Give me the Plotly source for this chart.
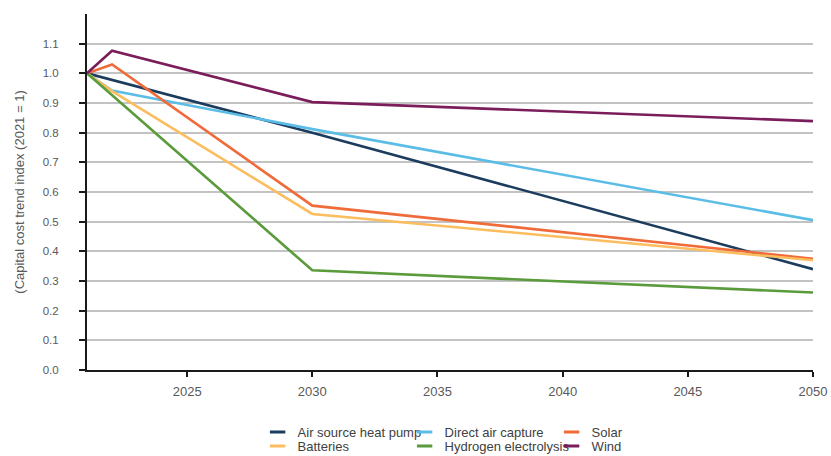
import plotly.graph_objects as go

years_ashp = [2021, 2030, 2050]
ashp = [1.0, 0.80, 0.34]

years_dac = [2021, 2022, 2030, 2050]
dac = [1.0, 0.942, 0.812, 0.505]

years_solar = [2021, 2022, 2030, 2050]
solar = [1.0, 1.03, 0.554, 0.375]

years_batt = [2021, 2022, 2030, 2050]
batteries = [1.0, 0.94, 0.526, 0.37]

years_h2 = [2021, 2030, 2050]
hydrogen = [1.0, 0.336, 0.261]

years_wind = [2021, 2022, 2030, 2050]
wind = [1.0, 1.076, 0.903, 0.839]

series = [
    ("Air source heat pump", years_ashp, ashp, "#1c3c5e", "legend"),
    ("Direct air capture", years_dac, dac, "#5bbde6", "legend"),
    ("Solar", years_solar, solar, "#ef6b3a", "legend"),
    ("Batteries", years_batt, batteries, "#fcbd5e", "legend2"),
    ("Hydrogen electrolysis", years_h2, hydrogen, "#5a9b3c", "legend2"),
    ("Wind", years_wind, wind, "#7b1d5b", "legend2"),
]

y_ticks = [round(0.1 * i, 1) for i in range(12)]
y_ticktext = [f"{v:.1f}" for v in y_ticks]
x_ticks = [2025, 2030, 2035, 2040, 2045, 2050]

fig = go.Figure()
for name, xs, ys, color, lg in series:
    fig.add_trace(go.Scatter(x=xs, y=ys, mode="lines", name=name,
                             line=dict(color=color, width=2.6),
                             showlegend=False, legendgroup=name))
# legend entries with short dash symbols
for name, xs, ys, color, lg in series:
    fig.add_trace(go.Scatter(x=[None], y=[None], mode="markers", name=name,
                             marker=dict(symbol="line-ew", size=11,
                                         line=dict(color=color, width=3)),
                             legend=lg, legendgroup=name, hoverinfo="skip"))

font_family = "Liberation Sans, Arial, sans-serif"
legend_common = dict(orientation="h", xanchor="left", yanchor="middle",
                     font=dict(family=font_family, size=13, color="#404040"),
                     entrywidth=102, entrywidthmode="pixels",
                     itemwidth=30, bgcolor="rgba(0,0,0,0)", tracegroupgap=0)

fig.update_layout(
    width=831, height=456,
    margin=dict(l=87, r=18, t=14, b=86, autoexpand=False),
    paper_bgcolor="white", plot_bgcolor="white",
    font=dict(family=font_family, size=11, color="#595959"),
    showlegend=True,
    legend=dict(x=0.235, y=-0.1742, xref="paper", yref="paper", **legend_common),
    legend2=dict(x=0.235, y=-0.2135, xref="paper", yref="paper", **legend_common),
    xaxis=dict(range=[2021, 2050], tickvals=x_ticks, showgrid=False,
               showline=True, linecolor="#1a1a1a", linewidth=2,
               ticks="outside", ticklen=5, tickwidth=2, tickcolor="#1a1a1a",
               tickfont=dict(size=13, color="#595959"), zeroline=False,
               ticklabelstandoff=3, automargin=False, fixedrange=True),
    yaxis=dict(range=[0, 1.2], tickvals=y_ticks, ticktext=y_ticktext,
               showgrid=True, gridcolor="#c3c3c3", gridwidth=2,
               showline=True, linecolor="#1a1a1a", linewidth=2,
               ticks="outside", ticklen=6, tickwidth=2, tickcolor="#1a1a1a",
               tickfont=dict(size=11.5, color="#595959"), zeroline=False,
               ticklabelstandoff=18,
               title=dict(text="(Capital cost trend index (2021 = 1)",
                          font=dict(size=13, color="#595959"), standoff=15),
               automargin=False, fixedrange=True),
)

fig.write_html(
    "out.html",
    config={"displayModeBar": False},
    post_script="document.body.style.margin='0';document.body.style.padding='0';document.body.style.overflow='hidden';",
)
